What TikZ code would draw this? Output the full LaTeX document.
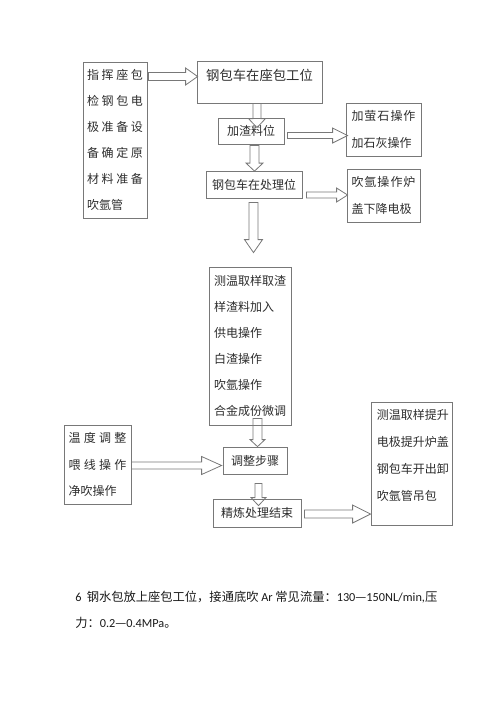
\documentclass[tikz,border=0pt]{standalone}
\usepackage{fontspec}
\setmainfont{Carlito}
\newfontfamily\cjk{Noto Sans CJK SC}
\usetikzlibrary{calc}
\definecolor{linegray}{RGB}{120,120,120}
\definecolor{inkgray}{RGB}{45,45,45}
\tikzset{
  box/.style={draw=linegray, line width=0.6pt, inner sep=0pt, align=left, text=inkgray, font=\cjk\fontsize{9}{19.6}\selectfont},
  txt/.style={inner sep=0pt, align=left, text=inkgray, font=\cjk\fontsize{9}{20.25}\selectfont},
  note/.style={inner sep=0pt, align=left, text=black!90, font=\fontsize{9.2}{19.5}\selectfont},
  blockarrow/.style={draw=linegray, line width=0.6pt, line join=miter},
}
% gap between spread characters
\newcommand{\cg}[1][2pt]{\hspace{#1}}
% hollow block arrows: start, tip, shaft half width, head half width, head length
\newcommand{\harrow}[5]{\draw[blockarrow] ($(#1)+(0,-#3)$) -- ($(#2)+(-#5,-#3)$) -- ($(#2)+(-#5,-#4)$) -- (#2) -- ($(#2)+(-#5,#4)$) -- ($(#2)+(-#5,#3)$) -- ($(#1)+(0,#3)$) -- cycle;}
\newcommand{\varrow}[5]{\draw[blockarrow] ($(#1)+(-#3,0)$) -- ($(#2)+(-#3,-#5)$) -- ($(#2)+(-#4,-#5)$) -- (#2) -- ($(#2)+(#4,-#5)$) -- ($(#2)+(#3,-#5)$) -- ($(#1)+(#3,0)$) -- cycle;}
\begin{document}
\begin{tikzpicture}[x=0.75pt,y=0.75pt,yscale=-1,xscale=1]
\useasboundingbox (0,0) rectangle (500,707);

% boxes
\node[box, minimum width=48pt, minimum height=117pt] (brief) at (115,140) {指\cg 挥\cg 座\cg 包\\检\cg 钢\cg 包\cg 电\\极\cg 准\cg 备\cg 设\\备\cg 确\cg 定\cg 原\\材\cg 料\cg 准\cg 备\\吹氩管};
\node[box, minimum width=93.75pt, text height=14.25pt, text depth=17.25pt, font=\cjk\fontsize{10}{12}\selectfont] (bseat) at (259.5,82) {钢包车在座包工位};
\node[box, minimum width=49.5pt, minimum height=19.5pt] (bslag) at (251,131) {加渣料位};
\node[box, minimum width=72pt, minimum height=20.25pt] (bpos) at (254,184.5) {钢包车在处理位};
\node[box, minimum width=56.25pt, minimum height=39.75pt] (bflux) at (383.5,129.5) {加\cg[0.75pt]萤\cg[0.75pt]石\cg[0.75pt]操\cg[0.75pt]作\\加石灰操作};
\node[box, minimum width=54.75pt, minimum height=39.75pt] (bargon) at (383.5,195.5) {吹\cg[0.75pt]氩\cg[0.75pt]操\cg[0.75pt]作\cg[0.75pt]炉\\盖下降电极};
\node[box, minimum width=61.5pt, minimum height=118.5pt] (btreat) at (250,346) {测温取样取渣\\样渣料加入\\供电操作\\白渣操作\\吹氩操作\\合金成份微调};
\node[box, minimum width=50.25pt, minimum height=59.25pt] (bwire) at (97.5,464.5) {温\cg[2.5pt]度\cg[2.5pt]调\cg[2.5pt]整\\喂\cg[2.5pt]线\cg[2.5pt]操\cg[2.5pt]作\\净吹操作};
\node[box, minimum width=48pt, minimum height=20.25pt] (badjust) at (255,460.5) {调整步骤};
\node[box, minimum width=66pt, minimum height=21pt] (bfinish) at (257,513) {精炼处理结束};
\node[box, minimum width=60.75pt, minimum height=92.25pt] (bout) at (411.5,463.5) {};
\node[txt, anchor=north west] (bouttext) at ($(bout.north west)+(6,7.4)$) {测温取样提升\\电极提升炉盖\\钢包车开出卸\\吹氩管吊包};

% arrows
\coordinate (h1) at ($(bseat.west)+(1,-5.5)$);
\path (brief.east |- h1) ++(1,0) coordinate (h1s);
\harrow{h1s}{h1}{4}{8.5}{12}
\coordinate (v1) at ($(bslag.north)+(6,10)$);
\path (bseat.south -| v1) coordinate (v1s);
\varrow{v1s}{v1}{4}{8.5}{9}
\coordinate (h2) at ($(bflux.west)+(2,6)$);
\path (bslag.east |- h2) ++(3,0) coordinate (h2s);
\harrow{h2s}{h2}{3}{7.5}{15}
\coordinate (v2) at ($(bpos.north)+(0.5,0.5)$);
\path (bslag.south -| v2) ++(0,1) coordinate (v2s);
\varrow{v2s}{v2}{4.5}{8.5}{8}
\coordinate (h3) at ($(bargon.west)+(1,-0.5)$);
\path (bpos.east |- h3) ++(4,0) coordinate (h3s);
\harrow{h3s}{h3}{3}{7}{11}
\coordinate (v3) at ($(btreat.north)+(3.5,-14)$);
\path (bpos.south -| v3) ++(0,4) coordinate (v3s);
\varrow{v3s}{v3}{4.5}{9}{13}
\coordinate (v4) at ($(badjust.north)+(2.5,0)$);
\path (btreat.south -| v4) ++(0,-7) coordinate (v4s);
\varrow{v4s}{v4}{4.5}{7.5}{7}
\coordinate (h4) at ($(badjust.west)+(-1,5)$);
\path (bwire.east |- h4) coordinate (h4s);
\harrow{h4s}{h4}{3.5}{9}{20}
\coordinate (v5) at ($(bfinish.north)+(1.5,7)$);
\path (badjust.south -| v5) ++(0,9) coordinate (v5s);
\varrow{v5s}{v5}{3.5}{7.5}{8}
\coordinate (h5) at ($(bout.west)+(0,50.5)$);
\path (bfinish.east |- h5) ++(3,0) coordinate (h5s);
\harrow{h5s}{h5}{4}{9}{18}

% note below the chart
\node[note, anchor=west] (note) at (75,610) {6\hspace{4pt}{\cjk 钢水包放上座包工位，接通底吹} Ar {\cjk 常见流量：}130{\cjk —}150NL/min,{\cjk 压}\\{\cjk 力：}0.2{\cjk —}0.4MPa{\cjk 。}};
\end{tikzpicture}
\end{document}
